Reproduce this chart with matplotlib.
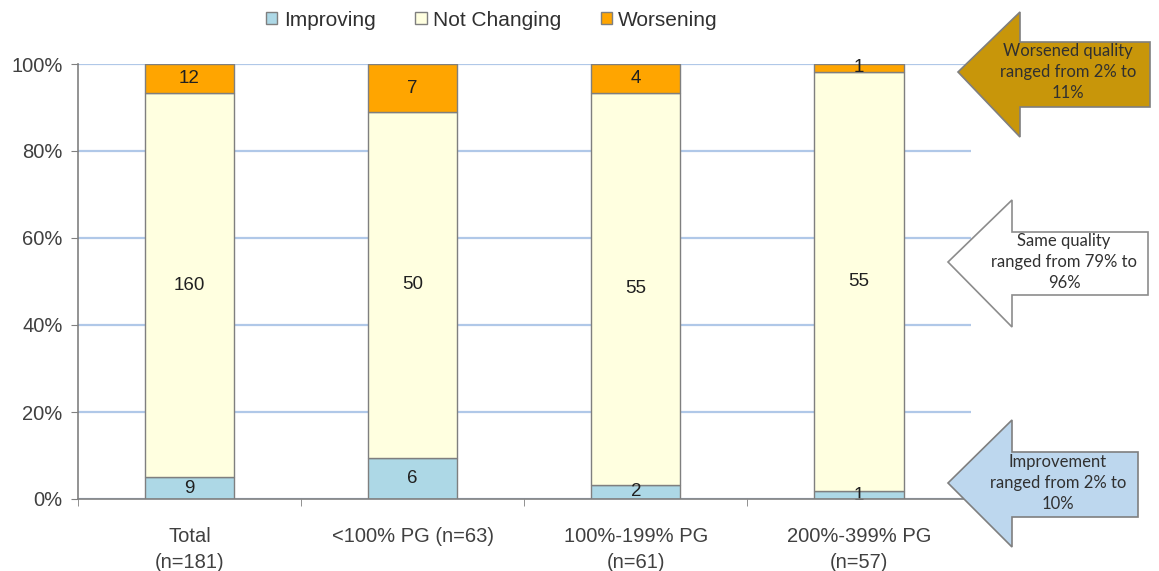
import numpy as np
import matplotlib.pyplot as plt
from matplotlib.patches import Patch, Polygon

plt.rcParams['font.family'] = ['Liberation Sans', 'DejaVu Sans']

categories = ["Total\n(n=181)", "<100% PG (n=63)", "100%-199% PG\n(n=61)", "200%-399% PG\n(n=57)"]
improving = np.array([9, 6, 2, 1])
not_changing = np.array([160, 50, 55, 55])
worsening = np.array([12, 7, 4, 1])

series = [("Improving", improving, "#ADD8E6"),
          ("Not Changing", not_changing, "#FFFFE0"),
          ("Worsening", worsening, "#FFA500")]

totals = improving + not_changing + worsening

W, H = 1159, 571
fig = plt.figure(figsize=(W / 100, H / 100), dpi=100)
ax = fig.add_axes([78 / W, (H - 499) / H, (970.5 - 78) / W, (499 - 64) / H])

x = np.arange(len(categories))
bottom = np.zeros(len(categories))
for name, vals, color in series:
    frac = vals / totals
    ax.bar(x, frac, 0.4, bottom=bottom, color=color, edgecolor="#7F7F7F",
           linewidth=1, zorder=3)
    for xi, b, f, v in zip(x, bottom, frac, vals):
        ax.text(xi, b + f / 2, str(v), ha="center", va="center", fontsize=13.5,
                color="#202020", zorder=4)
    bottom += frac

ax.set_xlim(-0.5, len(categories) - 0.5)
ax.set_ylim(0, 1)
ax.set_yticks(np.arange(0, 1.01, 0.2))
ax.set_yticklabels([f"{int(round(t * 100))}%" for t in np.arange(0, 1.01, 0.2)])
ax.yaxis.grid(True, color="#B0C8E8", linewidth=1.6, zorder=0)
ax.set_xticks(x)
ax.set_xticklabels(categories, linespacing=1.45)
ax.set_xticks(np.arange(-0.5, len(categories), 1), minor=True)
ax.tick_params(axis="x", which="major", length=0, labelsize=14.5, pad=20, colors="#404040")
ax.tick_params(axis="x", which="minor", length=5, color="#808080")
ax.tick_params(axis="y", length=5, color="#808080", labelsize=14.5, labelcolor="#404040", pad=6)
for s in ["top", "right"]:
    ax.spines[s].set_visible(False)
for s in ["left", "bottom"]:
    ax.spines[s].set_color("#808080")
    ax.spines[s].set_linewidth(1.2)
ax.spines["bottom"].set_zorder(5)

handles = [Patch(facecolor=c, edgecolor="#7F7F7F", label=n) for n, _, c in series]
fig.legend(handles=handles, loc="center", bbox_to_anchor=(492 / W, 1 - 20 / H),
           ncol=3, frameon=False, fontsize=15, handlelength=0.55, handleheight=0.55,
           handletextpad=0.3, columnspacing=1.9, labelcolor="#303030")

# callout arrows (figure pixel coordinates)
arrows = [
    (958, 72, 1020, 12, 137, 1150, 42, 107, "#C8960A", "#7F7F7F",
     "Worsened quality\nranged from 2% to\n11%", 1068),
    (948, 262, 1012, 200, 327, 1148, 232, 295, "#FFFFFF", "#8C8C8C",
     "Same quality\nranged from 79% to\n96%", 1064),
    (948, 483, 1012, 420, 547, 1138, 452, 517, "#BDD7EE", "#7F7F7F",
     "Improvement\nranged from 2% to\n10%", 1058),
]
for tx, ty, hx, htop, hbot, rx, btop, bbot, fc, ec, txt, cx in arrows:
    pts = [(tx, ty), (hx, htop), (hx, btop), (rx, btop), (rx, bbot),
           (hx, bbot), (hx, hbot)]
    pts = [(px / W, 1 - py / H) for px, py in pts]
    fig.patches.append(Polygon(pts, closed=True, facecolor=fc, edgecolor=ec,
                               linewidth=1.2, transform=fig.transFigure))
    fig.text(cx / W, 1 - ty / H, txt, ha="center", va="center", fontsize=12,
             color="#303030", linespacing=1.4, family=["Lato", "DejaVu Sans"])

plt.savefig("out.png", dpi=100)
